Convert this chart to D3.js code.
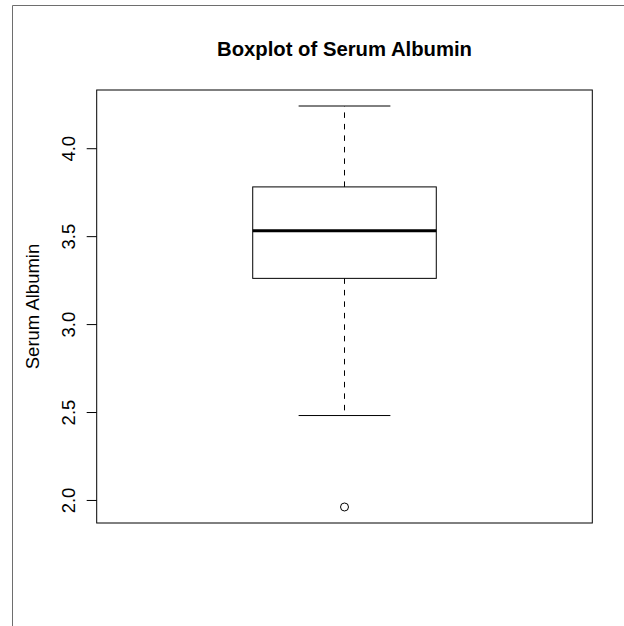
<!DOCTYPE html>
<html><head><meta charset="utf-8">
<script src="https://cdn.jsdelivr.net/npm/d3@7"></script>
<style>body{margin:0;background:#fff}svg{display:block}text{font-family:"Liberation Sans",Arial,sans-serif}</style>
</head><body>
<script>
const title = "Boxplot of Serum Albumin";
const yLabel = "Serum Albumin";
const stats = {min: 2.48, q1: 3.26, median: 3.53, q3: 3.78, max: 4.24};
const outliers = [1.96];
const yTicks = [2.0, 2.5, 3.0, 3.5, 4.0];
const yDomain = [1.869, 4.331];

const W = 624, H = 626;
const plot = {left: 96.7, right: 592.3, top: 90, bottom: 523};
const svg = d3.select("body").append("svg").attr("width", W).attr("height", H);

// outer frame (top and left edge)
svg.append("path").attr("d", "M12.5,626V5.5H624").attr("fill","none").attr("stroke","#6e6e6e").attr("stroke-width",1);

const y = d3.scaleLinear().domain(yDomain).range([plot.bottom, plot.top]);
const x = d3.scaleLinear().domain([0.46, 1.54]).range([plot.left, plot.right]);

const g = svg.append("g");
// whiskers (dashed)
g.append("line").attr("x1", x(1)).attr("x2", x(1)).attr("y1", y(stats.q3)).attr("y2", y(stats.max))
  .attr("stroke","#000").attr("stroke-dasharray","5.5,6");
g.append("line").attr("x1", x(1)).attr("x2", x(1)).attr("y1", y(stats.q1)).attr("y2", y(stats.min))
  .attr("stroke","#000").attr("stroke-dasharray","5.5,6");
// caps
[stats.min, stats.max].forEach(v => {
  g.append("line").attr("x1", x(0.9)).attr("x2", x(1.1)).attr("y1", y(v)).attr("y2", y(v)).attr("stroke","#000");
});
// box
g.append("rect").attr("x", x(0.8)).attr("width", x(1.2)-x(0.8))
  .attr("y", y(stats.q3)).attr("height", y(stats.q1)-y(stats.q3))
  .attr("fill","none").attr("stroke","#000");
// median
g.append("line").attr("x1", x(0.8)).attr("x2", x(1.2)).attr("y1", y(stats.median)).attr("y2", y(stats.median))
  .attr("stroke","#000").attr("stroke-width",3);
// outliers
g.selectAll("circle.out").data(outliers).join("circle").attr("class","out")
  .attr("cx", x(1)).attr("cy", d => y(d)).attr("r", 4).attr("fill","none").attr("stroke","#000");

// plot frame
svg.append("rect").attr("x", plot.left).attr("y", plot.top).attr("width", plot.right-plot.left).attr("height", plot.bottom-plot.top)
  .attr("fill","none").attr("stroke","#000");

// y axis
const ax = svg.append("g").attr("transform", `translate(${plot.left},0)`)
  .call(d3.axisLeft(y).tickValues(yTicks).tickFormat(d3.format(".1f")).tickSize(10).tickPadding(0));
ax.select(".domain").remove();
ax.selectAll(".tick text").attr("font-size", 18.5).attr("fill","#000")
  .attr("x", null).attr("dy", 0).attr("text-anchor","middle")
  .attr("transform", "translate(-22,0) rotate(-90)");
ax.selectAll(".tick line").attr("stroke","#000");

// title
svg.append("text").attr("x", (plot.left+plot.right)/2).attr("y", 56).attr("text-anchor","middle")
  .attr("font-size", 20.3).attr("font-weight","bold").text(title);
// y label
svg.append("text").attr("transform", `translate(39,${(plot.top+plot.bottom)/2}) rotate(-90)`)
  .attr("text-anchor","middle").attr("font-size", 18.5).text(yLabel);
</script>
</body></html>
